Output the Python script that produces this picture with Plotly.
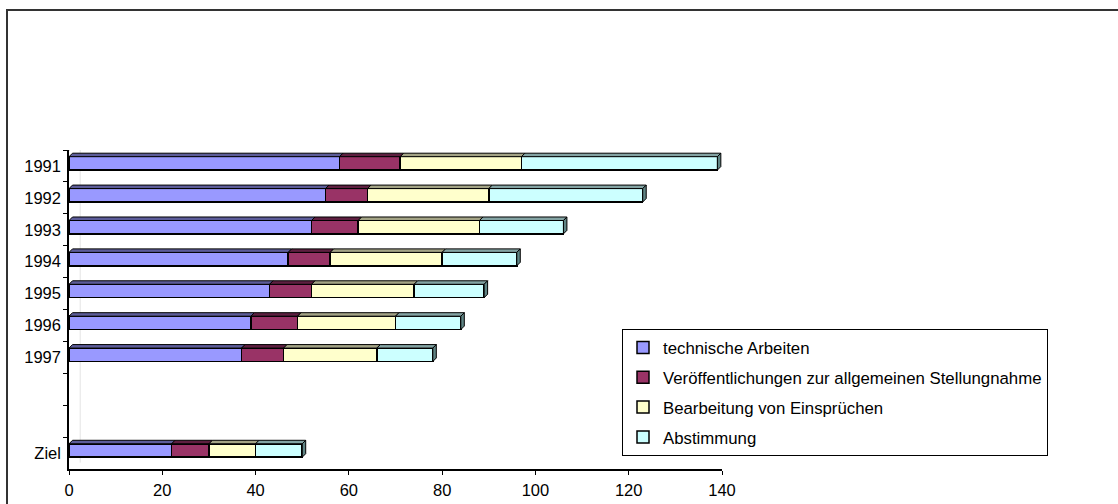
import plotly.graph_objects as go

# Row labels, top to bottom (two empty rows separate the target row)
categories = ["1991", "1992", "1993", "1994", "1995", "1996", "1997", " ", "  ", "Ziel"]

series_names = [
    "technische Arbeiten",
    "Veröffentlichungen zur allgemeinen Stellungnahme",
    "Bearbeitung von Einsprüchen",
    "Abstimmung",
]
technische_arbeiten = [58, 55, 52, 47, 43, 39, 37, None, None, 22]
veroeffentlichungen = [13, 9, 10, 9, 9, 10, 9, None, None, 8]
einsprueche = [26, 26, 26, 24, 22, 21, 20, None, None, 10]
abstimmung = [42, 33, 18, 16, 15, 14, 12, None, None, 10]

x_ticks = [0, 20, 40, 60, 80, 100, 120, 140]

# Styling
front_colors = ["#9999FF", "#993366", "#FFFFCC", "#CCFFFF"]
top_colors = ["#5c5c99", "#5e1f40", "#a3a385", "#83a3a3"]
side_color = "#5f8484"
FONT = "Liberation Sans, Arial, sans-serif"
TICK_SIZE = 16.5
LEGEND_SIZE = 16.8

W, H = 1118, 504
L, R, T, B = 69, 396, 150, 35          # plot area margins (px)
BAR_W, BAR_OFF = 0.42, -0.29           # bar thickness / offset in category units
DX, DY = 0.75, 0.11                    # pseudo-3D depth (x units, category units)

all_series = [technische_arbeiten, veroeffentlichungen, einsprueche, abstimmung]

fig = go.Figure()
for name, vals, col in zip(series_names, all_series, front_colors):
    fig.add_trace(go.Bar(
        y=categories, x=vals, name=name, orientation="h",
        width=BAR_W, offset=BAR_OFF,
        marker=dict(color=col, line=dict(color="black", width=1.5)),
        legendgroup=name,
    ))

# Top and end faces of each stacked bar, derived from the cumulative sums
shapes = []
for j in range(len(categories)):
    if technische_arbeiten[j] is None:
        continue
    yt = j + BAR_OFF
    yb = yt + BAR_W
    left = 0
    for k, vals in enumerate(all_series):
        right = left + vals[j]
        shapes.append(dict(
            type="path", xref="x", yref="y", layer="above",
            path=f"M {left},{yt} L {right},{yt} L {right + DX},{yt - DY} L {left + DX},{yt - DY} Z",
            fillcolor=top_colors[k], line=dict(color="black", width=1),
        ))
        left = right
    shapes.append(dict(
        type="path", xref="x", yref="y", layer="above",
        path=f"M {left},{yt} L {left + DX},{yt - DY} L {left + DX},{yb - DY} L {left},{yb} Z",
        fillcolor=side_color, line=dict(color="black", width=1),
    ))

n = len(categories)
# Back-wall edge at the top of the category axis and its faint vertical edge
shapes.append(dict(type="line", xref="x", yref="y", x0=0, y0=-0.5, x1=2.2, y1=-0.72,
                   line=dict(color="black", width=1)))
shapes.append(dict(type="line", xref="x", yref="y", x0=2.4, y0=-0.6, x1=2.4, y1=n - 0.7,
                   layer="below", line=dict(color="#e4e4e4", width=1)))

# Outer chart frame (runs past the right and bottom edges of the page)
pw, ph = W - L - R, H - T - B
def px_x(p):
    return (p - L) / pw
def px_y(p):
    return (H - B - p) / ph
shapes.append(dict(type="rect", xref="paper", yref="paper",
                   x0=px_x(7), y0=px_y(515), x1=px_x(1130), y1=px_y(10),
                   line=dict(color="#333333", width=2), fillcolor="rgba(0,0,0,0)"))

fig.update_layout(
    width=W, height=H,
    margin=dict(l=L, r=R, t=T, b=B, pad=0, autoexpand=False),
    barmode="stack",
    plot_bgcolor="white", paper_bgcolor="white",
    font=dict(family=FONT, size=TICK_SIZE, color="black"),
    showlegend=True,
    legend=dict(
        x=px_x(622), y=px_y(329), xanchor="left", yanchor="top",
        bordercolor="black", borderwidth=1, bgcolor="white",
        font=dict(family=FONT, size=LEGEND_SIZE, color="black"),
        traceorder="grouped", tracegroupgap=5,
    ),
    xaxis=dict(
        range=[0, 140], tickvals=x_ticks, ticks="outside", ticklen=4,
        tickcolor="black", showline=True, linecolor="black", linewidth=1.5,
        showgrid=False, zeroline=False, fixedrange=True, automargin=False,
        ticklabelstandoff=1, tickfont=dict(size=TICK_SIZE),
    ),
    yaxis=dict(
        type="category", categoryorder="array", categoryarray=categories,
        range=[n - 0.5, -0.5], ticks="outside", tickson="boundaries", ticklen=4,
        tickcolor="black", showline=True, linecolor="black", linewidth=1.5,
        showgrid=False, zeroline=False, fixedrange=True, automargin=False,
        ticklabelstandoff=3, tickfont=dict(size=TICK_SIZE),
    ),
    shapes=shapes,
)

fig.write_html("out.html")
